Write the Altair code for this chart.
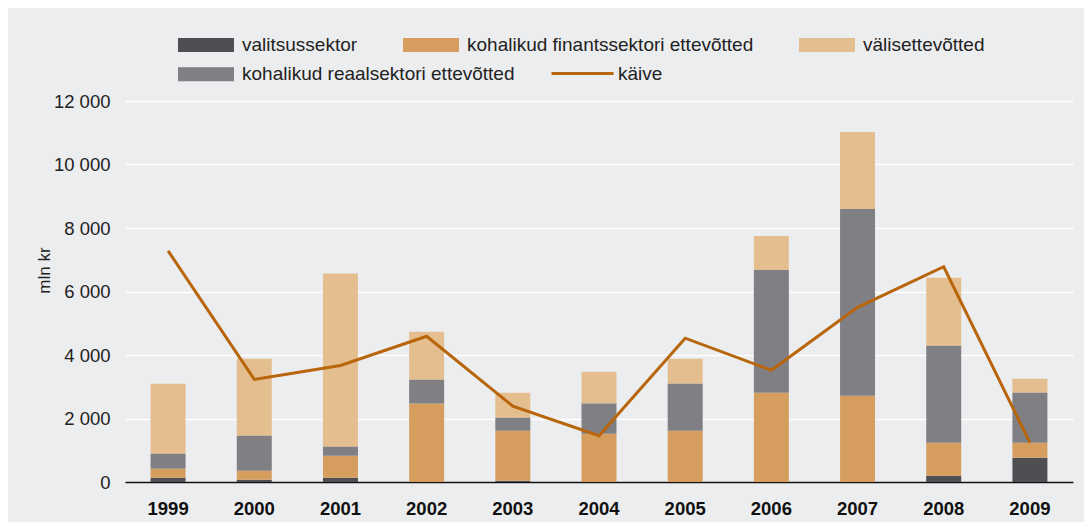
import altair as alt
import pandas as pd

years = ["1999", "2000", "2001", "2002", "2003", "2004", "2005", "2006", "2007", "2008", "2009"]
valitsussektor = [135, 72, 135, 0, 40, 0, 0, 0, 0, 200, 765]
finants = [283, 284, 693, 2470, 1575, 1520, 1615, 2810, 2720, 1040, 475]
reaal = [472, 1101, 283, 752, 409, 950, 1479, 3870, 5880, 3050, 1570]
valis = [2204, 2423, 5453, 1508, 786, 1003, 786, 1070, 2420, 2140, 440]
kaive = [7280, 3230, 3670, 4590, 2390, 1460, 4530, 3520, 5500, 6780, 1240]

NAME_V = "valitsussektor"
NAME_F = "kohalikud finantssektori ettevõtted"
NAME_VA = "välisettevõtted"
NAME_R = "kohalikud reaalsektori ettevõtted"
NAME_K = "käive"

row1_names = [NAME_V, NAME_F, NAME_VA]
row1_colors = ["#4F4E53", "#D59E5E", "#E4BE8F"]
reaal_color = "#807F84"
line_color = "#B8650B"

stack_order = {NAME_V: 0, NAME_F: 1, NAME_R: 2, NAME_VA: 3}
series_values = {NAME_V: valitsussektor, NAME_F: finants, NAME_R: reaal, NAME_VA: valis}

rows = []
for name, vals in series_values.items():
    for y, v in zip(years, vals):
        rows.append({"aasta": y, "sektor": name, "väärtus": v, "järjekord": stack_order[name]})
bars_df = pd.DataFrame(rows)
line_df = pd.DataFrame({"aasta": years, "käive": kaive, "seeria": [NAME_K] * len(years)})

FONT = "Liberation Sans"

x_enc = alt.X(
    "aasta:N",
    sort=years,
    scale=alt.Scale(paddingInner=0.594, paddingOuter=0.297),
    axis=alt.Axis(
        title=None, labelAngle=0, labelFontWeight="bold", labelFontSize=18.5,
        labelColor="#111111", labelPadding=17, ticks=False, domain=True,
        domainColor="#111111", domainWidth=1.5, grid=False, labelFont=FONT,
    ),
)

y_axis = alt.Axis(
    title="mln kr", titleAngle=270, titleX=-81, titleY=169, titleAlign="center",
    titleBaseline="middle", titleFontWeight="normal", titleFontSize=17,
    titleColor="#222222", titleFont=FONT,
    values=[0, 2000, 4000, 6000, 8000, 10000, 12000],
    labelExpr="replace(format(datum.value, ','), ',', ' ')",
    labelFontSize=18.5, labelColor="#222222", labelPadding=15, labelFont=FONT,
    domain=False, ticks=False, grid=True, gridColor="#FFFFFF", gridWidth=1.5,
)
y_scale = alt.Scale(domain=[0, 12000], nice=False)

legend_common = dict(
    orient="none", title=None, labelFontSize=19, labelColor="#222222",
    labelFont=FONT, labelLimit=600,
)
rect_symbol = dict(
    symbolType="M-1,-0.25H1V0.25H-1Z", symbolSize=3136, symbolStrokeWidth=0,
    symbolOpacity=1, labelOffset=8,
)

base = alt.Chart(bars_df).transform_stack(
    stack="väärtus", groupby=["aasta"], as_=["y0", "y1"],
    sort=[alt.SortField("järjekord", order="ascending")],
)

bars_main = base.transform_filter(
    alt.FieldOneOfPredicate(field="sektor", oneOf=row1_names)
).mark_bar().encode(
    x=x_enc,
    y=alt.Y("y0:Q", scale=y_scale, axis=y_axis),
    y2="y1:Q",
    color=alt.Color(
        "sektor:N",
        scale=alt.Scale(domain=row1_names, range=row1_colors),
        legend=alt.Legend(
            legendX=53, legendY=-84, direction="horizontal", columnPadding=45,
            **legend_common, **rect_symbol,
        ),
    ),
)

bars_reaal = base.transform_filter(
    alt.FieldEqualPredicate(field="sektor", equal=NAME_R)
).mark_bar().encode(
    x=alt.X("aasta:N", sort=years),
    y=alt.Y("y0:Q", scale=y_scale, axis=y_axis),
    y2="y1:Q",
    fill=alt.Fill(
        "sektor:N",
        scale=alt.Scale(domain=[NAME_R], range=[reaal_color]),
        legend=alt.Legend(legendX=53, legendY=-54.7, **legend_common, **rect_symbol),
    ),
)

line = alt.Chart(line_df).mark_line(strokeWidth=3, strokeJoin="miter").encode(
    x=alt.X("aasta:N", sort=years),
    y=alt.Y("käive:Q", scale=y_scale, axis=y_axis),
    stroke=alt.Stroke(
        "seeria:N",
        scale=alt.Scale(domain=[NAME_K], range=[line_color]),
        legend=alt.Legend(
            legendX=425, legendY=-60, symbolType="stroke", symbolSize=3844,
            symbolStrokeWidth=3, labelOffset=3, **legend_common,
        ),
    ),
)

chart = (
    alt.layer(bars_main, bars_reaal, line)
    .properties(
        width=948, height=381,
        autosize=alt.AutoSizeParams(type="none"),
        padding={"left": 117, "top": 93, "right": 11, "bottom": 40},
        background="#ECEDEF",
    )
    .configure_view(stroke=None)
)

chart.save("out.html", embed_options={"renderer": "svg", "actions": False})
